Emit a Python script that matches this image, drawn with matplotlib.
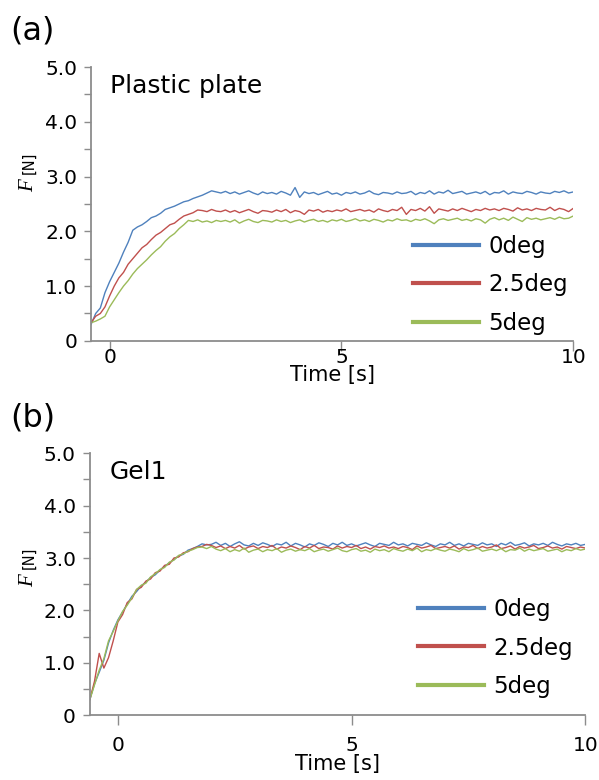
import numpy as np
import matplotlib
matplotlib.use("Agg")
import matplotlib.pyplot as plt

plt.rcParams['font.family'] = ['DejaVu Sans']

# ---------------- data ----------------
labels = ["0deg", "2.5deg", "5deg"]
colors = ["#4F81BD", "#C0504D", "#9BBB59"]

# Panel (a): Plastic plate, sampled every 0.1 s from -0.4 s to 10.0 s
time_a = np.round(np.arange(-0.4, 10.001, 0.1), 1)
a_0deg = [0.30, 0.50, 0.60, 0.88, 1.08, 1.25, 1.42, 1.62, 1.80, 2.02,
          2.08, 2.12, 2.18, 2.25, 2.28, 2.33, 2.40, 2.43, 2.46, 2.50,
          2.54, 2.56, 2.60, 2.63, 2.66, 2.70, 2.74, 2.72,
          2.70, 2.73, 2.69, 2.72, 2.68, 2.71, 2.74, 2.70, 2.67, 2.72,
          2.69, 2.71, 2.68, 2.73, 2.70, 2.66, 2.80, 2.62, 2.72, 2.69,
          2.71, 2.67, 2.70, 2.73, 2.68, 2.70, 2.66, 2.71, 2.69, 2.72,
          2.68, 2.70, 2.74, 2.69, 2.67, 2.71, 2.70, 2.68, 2.72, 2.69,
          2.70, 2.73, 2.67, 2.71, 2.69, 2.74, 2.68, 2.72, 2.70, 2.75,
          2.69, 2.71, 2.73, 2.68, 2.70, 2.72, 2.69, 2.73, 2.67, 2.71,
          2.70, 2.74, 2.68, 2.72, 2.70, 2.69, 2.73, 2.71, 2.68, 2.72,
          2.70, 2.69, 2.73, 2.71, 2.74, 2.70, 2.72]
a_2_5deg = [0.33, 0.45, 0.50, 0.62, 0.82, 1.00, 1.15, 1.25, 1.40, 1.50,
            1.60, 1.70, 1.76, 1.85, 1.93, 1.98, 2.05, 2.12, 2.15, 2.22,
            2.28, 2.31, 2.34, 2.39, 2.38, 2.36, 2.40, 2.37,
            2.36, 2.39, 2.35, 2.38, 2.34, 2.37, 2.40, 2.36, 2.33, 2.38,
            2.37, 2.35, 2.39, 2.36, 2.40, 2.34, 2.38, 2.36, 2.31, 2.39,
            2.37, 2.40, 2.35, 2.38, 2.36, 2.39, 2.37, 2.41, 2.36, 2.38,
            2.40, 2.37, 2.39, 2.35, 2.41, 2.38, 2.36, 2.40, 2.38, 2.44,
            2.31, 2.40, 2.38, 2.42, 2.37, 2.45, 2.33, 2.41, 2.39, 2.37,
            2.41, 2.38, 2.42, 2.39, 2.36, 2.40, 2.38, 2.42, 2.39, 2.41,
            2.38, 2.42, 2.40, 2.37, 2.43, 2.39, 2.41, 2.38, 2.42, 2.40,
            2.39, 2.44, 2.38, 2.42, 2.40, 2.36, 2.42]
a_5deg = [0.33, 0.36, 0.40, 0.45, 0.62, 0.75, 0.88, 1.00, 1.10, 1.22,
          1.32, 1.40, 1.48, 1.57, 1.65, 1.72, 1.82, 1.90, 1.96, 2.05,
          2.12, 2.20, 2.18, 2.21, 2.17, 2.19, 2.16, 2.20,
          2.18, 2.20, 2.17, 2.21, 2.15, 2.19, 2.22, 2.18, 2.16, 2.20,
          2.19, 2.17, 2.21, 2.18, 2.20, 2.16, 2.19, 2.21, 2.17, 2.20,
          2.22, 2.18, 2.20, 2.17, 2.21, 2.19, 2.22, 2.18, 2.20, 2.23,
          2.19, 2.21, 2.18, 2.22, 2.20, 2.17, 2.21, 2.19, 2.23, 2.20,
          2.21, 2.18, 2.22, 2.20, 2.23, 2.19, 2.14, 2.21, 2.23, 2.20,
          2.22, 2.24, 2.20, 2.22, 2.19, 2.23, 2.21, 2.15, 2.22, 2.25,
          2.21, 2.24, 2.20, 2.26, 2.22, 2.18, 2.25, 2.22, 2.24, 2.21,
          2.23, 2.25, 2.22, 2.26, 2.23, 2.24, 2.28]

# Panel (b): Gel1, sampled every 0.1 s from -0.6 s to 10.0 s
time_b = np.round(np.arange(-0.6, 10.001, 0.1), 1)
b_0deg = [0.30, 0.60, 0.82, 1.05, 1.38, 1.62, 1.82, 1.97, 2.12, 2.27,
          2.36, 2.47, 2.54, 2.63, 2.68, 2.77, 2.84, 2.91, 2.97, 3.04,
          3.07, 3.15, 3.18, 3.22, 3.27, 3.25,
          3.26, 3.30, 3.24, 3.28, 3.22, 3.27, 3.31, 3.25, 3.23, 3.28,
          3.24, 3.29, 3.26, 3.22, 3.27, 3.25, 3.30, 3.23, 3.28, 3.25,
          3.21, 3.27, 3.24, 3.29, 3.26, 3.22, 3.28, 3.25, 3.30, 3.24,
          3.27, 3.23, 3.26, 3.29, 3.25, 3.22, 3.28, 3.26, 3.24, 3.30,
          3.25, 3.27, 3.23, 3.28, 3.26, 3.24, 3.29, 3.25, 3.22, 3.27,
          3.25, 3.30, 3.24, 3.27, 3.23, 3.28, 3.26, 3.24, 3.29, 3.25,
          3.27, 3.22, 3.28, 3.25, 3.30, 3.24, 3.26, 3.29, 3.23, 3.27,
          3.25, 3.28, 3.24, 3.30, 3.26, 3.23, 3.27, 3.25, 3.28, 3.24,
          3.26]
b_2_5deg = [0.30, 0.65, 1.18, 0.90, 1.10, 1.42, 1.78, 1.92, 2.15, 2.22,
            2.40, 2.44, 2.56, 2.60, 2.72, 2.75, 2.86, 2.88, 3.00, 3.02,
            3.10, 3.12, 3.18, 3.21, 3.22, 3.26,
            3.24, 3.20, 3.23, 3.18, 3.22, 3.19, 3.24, 3.17, 3.21, 3.23,
            3.18, 3.22, 3.20, 3.24, 3.17, 3.21, 3.19, 3.23, 3.20, 3.16,
            3.22, 3.19, 3.24, 3.18, 3.21, 3.20, 3.17, 3.23, 3.19, 3.22,
            3.20, 3.24, 3.18, 3.21, 3.17, 3.22, 3.20, 3.23, 3.19, 3.21,
            3.18, 3.22, 3.20, 3.16, 3.23, 3.19, 3.21, 3.24, 3.18, 3.20,
            3.22, 3.19, 3.23, 3.17, 3.21, 3.20, 3.24, 3.18, 3.22, 3.19,
            3.21, 3.25, 3.18, 3.20, 3.23, 3.17, 3.22, 3.19, 3.21, 3.24,
            3.18, 3.20, 3.23, 3.19, 3.21, 3.17, 3.22, 3.20, 3.18, 3.21,
            3.19]
b_5deg = [0.30, 0.58, 0.86, 1.08, 1.42, 1.60, 1.80, 1.98, 2.10, 2.24,
          2.40, 2.48, 2.52, 2.64, 2.70, 2.78, 2.82, 2.92, 2.96, 3.05,
          3.08, 3.13, 3.16, 3.20, 3.21, 3.18,
          3.22, 3.17, 3.14, 3.18, 3.12, 3.16, 3.13, 3.19, 3.11, 3.15,
          3.17, 3.12, 3.16, 3.14, 3.18, 3.11, 3.15, 3.17, 3.13, 3.16,
          3.14, 3.18, 3.12, 3.15, 3.17, 3.13, 3.16, 3.19, 3.14, 3.12,
          3.16, 3.18, 3.13, 3.15, 3.11, 3.17, 3.14, 3.16, 3.12, 3.18,
          3.15, 3.13, 3.17, 3.14, 3.19, 3.12, 3.16, 3.14, 3.18, 3.15,
          3.13, 3.17, 3.15, 3.12, 3.18, 3.14, 3.16, 3.19, 3.13, 3.15,
          3.17, 3.14, 3.18, 3.12, 3.16, 3.15, 3.19, 3.13, 3.17, 3.14,
          3.16, 3.18, 3.13, 3.15, 3.17, 3.12, 3.16, 3.14, 3.18, 3.15,
          3.17]

x_ticks = [0, 5, 10]
y_ticks = [0, 1, 2, 3, 4, 5]
y_ticklabels = ["0", "1.0", "2.0", "3.0", "4.0", "5.0"]

# ---------------- figure ----------------
fig = plt.figure(figsize=(5.99, 7.8), dpi=100)
axis_gray = "#8C8C8C"

panels = [
    dict(rect=[0.152, 0.563, 0.805, 0.351], t=time_a, ys=[a_0deg, a_2_5deg, a_5deg],
         xlim=(-0.4, 10), title="Plastic plate", tag="(a)", tag_y=1 - 31 / 780,
         leg=(413 / 599, 1 - 285 / 780), xpad=-2, xlpad=-1, ylab_y=1 - 175 / 780),
    dict(rect=[0.150, 0.083, 0.827, 0.336], t=time_b, ys=[b_0deg, b_2_5deg, b_5deg],
         xlim=(-0.6, 10), title="Gel1", tag="(b)", tag_y=1 - 418 / 780,
         leg=(418 / 599, 1 - 648 / 780), xpad=8, xlpad=-1, ylab_y=1 - 570 / 780),
]

for p in panels:
    ax = fig.add_axes(p["rect"])
    for y, c, lab in zip(p["ys"], colors, labels):
        ax.plot(p["t"], y, color=c, lw=1.0, label=lab)
    ax.set_xlim(*p["xlim"])
    ax.set_ylim(0, 5)
    ax.set_xticks(x_ticks)
    ax.set_yticks(y_ticks)
    ax.set_yticklabels(y_ticklabels)
    ax.set_yticks(np.arange(0.5, 5, 1.0), minor=True)
    for s in ["top", "right"]:
        ax.spines[s].set_visible(False)
    for s in ["left", "bottom"]:
        ax.spines[s].set_color(axis_gray)
        ax.spines[s].set_linewidth(1.3)
    ax.tick_params(axis="y", which="both", direction="out", length=5, width=1.0,
                   color=axis_gray, labelsize=14.5, pad=5)
    ax.tick_params(axis="x", which="both", direction="out", length=7, width=1.0,
                   color=axis_gray, labelsize=14.5, pad=p["xpad"])
    ax.set_xlabel("Time [s]", fontsize=15, labelpad=p["xlpad"])
    ax.text(0.04, 0.93, p["title"], transform=ax.transAxes, fontsize=18,
            ha="left", va="center")
    fig.text(10 / 599, p["tag_y"], p["tag"], fontsize=23, ha="left", va="center")
    # y label: italic serif F followed by [N]
    fig.text(29 / 599, p["ylab_y"] - 0.013, "F", rotation=90, fontsize=15,
             family="Liberation Serif", style="italic", ha="center", va="center")
    fig.text(29 / 599, p["ylab_y"] + 0.015, "[N]", rotation=90, fontsize=10.5,
             ha="center", va="center")
    leg = ax.legend(loc="center left", bbox_to_anchor=p["leg"],
                    bbox_transform=fig.transFigure, frameon=False, fontsize=16.5,
                    handlelength=2.9, handletextpad=0.4, labelspacing=0.68,
                    borderpad=0, borderaxespad=0)
    for h in leg.get_lines():
        h.set_linewidth(3.0)

fig.savefig("out.png", dpi=100)
